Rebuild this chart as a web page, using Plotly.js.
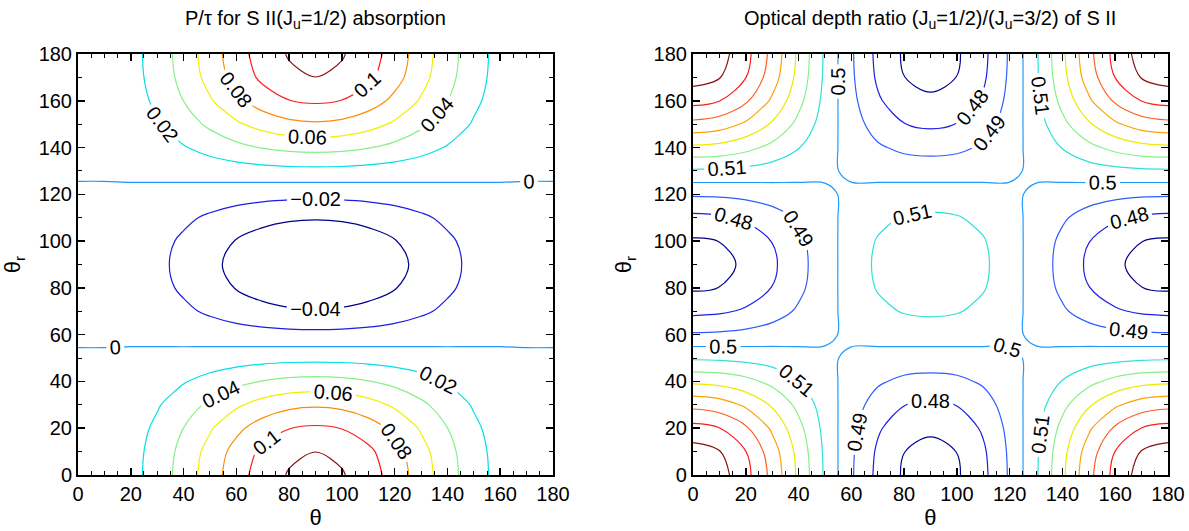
<!DOCTYPE html>
<html>
<head>
<meta charset="utf-8">
<script src="https://cdn.plot.ly/plotly-3.0.1.min.js"></script>
<style>
html,body{margin:0;padding:0;background:#ffffff;}
#chart{width:1189px;height:531px;}
</style>
</head>
<body>
<div id="chart"></div>
<script>
// Grid of angles (degrees)
const theta  = [0,10,20,30,40,50,60,70,80,90,100,110,120,130,140,150,160,170,180];
const thetaR = [0,10,20,30,40,50,60,70,80,90,100,110,120,130,140,150,160,170,180];

// Left panel: P/tau for S II (Ju=1/2) absorption, rows = theta_r, columns = theta
const pTau = [
 [0.0001,0.0034,0.0132,0.0286,0.0483,0.0701,0.0914,0.1095,0.1216,0.1259,0.1216,0.1095,0.0914,0.0701,0.0483,0.0286,0.0132,0.0034,0.0001],
 [0.0001,0.0032,0.0126,0.0274,0.0462,0.0669,0.0872,0.1044,0.1159,0.1199,0.1159,0.1044,0.0872,0.0669,0.0462,0.0274,0.0126,0.0032,0.0001],
 [0.0001,0.0028,0.0110,0.0238,0.0401,0.0579,0.0752,0.0898,0.0996,0.1030,0.0996,0.0898,0.0752,0.0579,0.0401,0.0238,0.0110,0.0028,0.0001],
 [0.0001,0.0022,0.0085,0.0182,0.0305,0.0440,0.0569,0.0677,0.0749,0.0774,0.0749,0.0677,0.0569,0.0440,0.0305,0.0182,0.0085,0.0022,0.0001],
 [0.0001,0.0013,0.0052,0.0112,0.0187,0.0268,0.0345,0.0409,0.0451,0.0466,0.0451,0.0409,0.0345,0.0268,0.0187,0.0112,0.0052,0.0013,0.0001],
 [0.00004,0.0004,0.0017,0.0036,0.0059,0.0085,0.0108,0.0128,0.0141,0.0145,0.0141,0.0128,0.0108,0.0085,0.0059,0.0036,0.0017,0.0004,0.00004],
 [-0.00005,-0.0005,-0.0018,-0.0038,-0.0063,-0.0089,-0.0113,-0.0133,-0.0146,-0.0150,-0.0146,-0.0133,-0.0113,-0.0089,-0.0063,-0.0038,-0.0018,-0.0005,-0.00005],
 [-0.0001,-0.0012,-0.0047,-0.0100,-0.0163,-0.0230,-0.0293,-0.0343,-0.0375,-0.0386,-0.0375,-0.0343,-0.0293,-0.0230,-0.0163,-0.0100,-0.0047,-0.0012,-0.0001],
 [-0.0001,-0.0017,-0.0066,-0.0140,-0.0230,-0.0323,-0.0409,-0.0478,-0.0523,-0.0538,-0.0523,-0.0478,-0.0409,-0.0323,-0.0230,-0.0140,-0.0066,-0.0017,-0.0001],
 [-0.0001,-0.0019,-0.0073,-0.0155,-0.0253,-0.0356,-0.0450,-0.0525,-0.0574,-0.0591,-0.0574,-0.0525,-0.0450,-0.0356,-0.0253,-0.0155,-0.0073,-0.0019,-0.0001],
 [-0.0001,-0.0017,-0.0066,-0.0140,-0.0230,-0.0323,-0.0409,-0.0478,-0.0523,-0.0538,-0.0523,-0.0478,-0.0409,-0.0323,-0.0230,-0.0140,-0.0066,-0.0017,-0.0001],
 [-0.0001,-0.0012,-0.0047,-0.0100,-0.0163,-0.0230,-0.0293,-0.0343,-0.0375,-0.0386,-0.0375,-0.0343,-0.0293,-0.0230,-0.0163,-0.0100,-0.0047,-0.0012,-0.0001],
 [-0.00005,-0.0005,-0.0018,-0.0038,-0.0063,-0.0089,-0.0113,-0.0133,-0.0146,-0.0150,-0.0146,-0.0133,-0.0113,-0.0089,-0.0063,-0.0038,-0.0018,-0.0005,-0.00005],
 [0.00004,0.0004,0.0017,0.0036,0.0059,0.0085,0.0108,0.0128,0.0141,0.0145,0.0141,0.0128,0.0108,0.0085,0.0059,0.0036,0.0017,0.0004,0.00004],
 [0.0001,0.0013,0.0052,0.0112,0.0187,0.0268,0.0345,0.0409,0.0451,0.0466,0.0451,0.0409,0.0345,0.0268,0.0187,0.0112,0.0052,0.0013,0.0001],
 [0.0001,0.0022,0.0085,0.0182,0.0305,0.0440,0.0569,0.0677,0.0749,0.0774,0.0749,0.0677,0.0569,0.0440,0.0305,0.0182,0.0085,0.0022,0.0001],
 [0.0001,0.0028,0.0110,0.0238,0.0401,0.0579,0.0752,0.0898,0.0996,0.1030,0.0996,0.0898,0.0752,0.0579,0.0401,0.0238,0.0110,0.0028,0.0001],
 [0.0001,0.0032,0.0126,0.0274,0.0462,0.0669,0.0872,0.1044,0.1159,0.1199,0.1159,0.1044,0.0872,0.0669,0.0462,0.0274,0.0126,0.0032,0.0001],
 [0.0001,0.0034,0.0132,0.0286,0.0483,0.0701,0.0914,0.1095,0.1216,0.1259,0.1216,0.1095,0.0914,0.0701,0.0483,0.0286,0.0132,0.0034,0.0001]
];

// Right panel: optical depth ratio (Ju=1/2)/(Ju=3/2), rows = theta_r, columns = theta
const depthRatio = [
 [0.5780,0.5742,0.5633,0.5471,0.5280,0.5086,0.4912,0.4775,0.4688,0.4658,0.4688,0.4775,0.4912,0.5086,0.5280,0.5471,0.5633,0.5742,0.5780],
 [0.5742,0.5705,0.5602,0.5448,0.5267,0.5082,0.4916,0.4785,0.4701,0.4673,0.4701,0.4785,0.4916,0.5082,0.5267,0.5448,0.5602,0.5705,0.5742],
 [0.5633,0.5602,0.5515,0.5384,0.5230,0.5071,0.4927,0.4813,0.4741,0.4716,0.4741,0.4813,0.4927,0.5071,0.5230,0.5384,0.5515,0.5602,0.5633],
 [0.5471,0.5448,0.5384,0.5288,0.5173,0.5054,0.4945,0.4858,0.4802,0.4783,0.4802,0.4858,0.4945,0.5054,0.5173,0.5288,0.5384,0.5448,0.5471],
 [0.5280,0.5267,0.5230,0.5173,0.5104,0.5033,0.4966,0.4913,0.4878,0.4867,0.4878,0.4913,0.4966,0.5033,0.5104,0.5173,0.5230,0.5267,0.5280],
 [0.5086,0.5082,0.5071,0.5054,0.5033,0.5012,0.4989,0.4972,0.4961,0.4957,0.4961,0.4972,0.4989,0.5012,0.5033,0.5054,0.5071,0.5082,0.5086],
 [0.4912,0.4916,0.4927,0.4945,0.4966,0.4989,0.5012,0.5029,0.5041,0.5045,0.5041,0.5029,0.5012,0.4989,0.4966,0.4945,0.4927,0.4916,0.4912],
 [0.4775,0.4785,0.4813,0.4858,0.4913,0.4972,0.5029,0.5076,0.5107,0.5117,0.5107,0.5076,0.5029,0.4972,0.4913,0.4858,0.4813,0.4785,0.4775],
 [0.4688,0.4701,0.4741,0.4802,0.4878,0.4961,0.5041,0.5107,0.5150,0.5165,0.5150,0.5107,0.5041,0.4961,0.4878,0.4802,0.4741,0.4701,0.4688],
 [0.4658,0.4673,0.4716,0.4783,0.4867,0.4957,0.5045,0.5117,0.5165,0.5182,0.5165,0.5117,0.5045,0.4957,0.4867,0.4783,0.4716,0.4673,0.4658],
 [0.4688,0.4701,0.4741,0.4802,0.4878,0.4961,0.5041,0.5107,0.5150,0.5165,0.5150,0.5107,0.5041,0.4961,0.4878,0.4802,0.4741,0.4701,0.4688],
 [0.4775,0.4785,0.4813,0.4858,0.4913,0.4972,0.5029,0.5076,0.5107,0.5117,0.5107,0.5076,0.5029,0.4972,0.4913,0.4858,0.4813,0.4785,0.4775],
 [0.4912,0.4916,0.4927,0.4945,0.4966,0.4989,0.5012,0.5029,0.5041,0.5045,0.5041,0.5029,0.5012,0.4989,0.4966,0.4945,0.4927,0.4916,0.4912],
 [0.5086,0.5082,0.5071,0.5054,0.5033,0.5012,0.4989,0.4972,0.4961,0.4957,0.4961,0.4972,0.4989,0.5012,0.5033,0.5054,0.5071,0.5082,0.5086],
 [0.5280,0.5267,0.5230,0.5173,0.5104,0.5033,0.4966,0.4913,0.4878,0.4867,0.4878,0.4913,0.4966,0.5033,0.5104,0.5173,0.5230,0.5267,0.5280],
 [0.5471,0.5448,0.5384,0.5288,0.5173,0.5054,0.4945,0.4858,0.4802,0.4783,0.4802,0.4858,0.4945,0.5054,0.5173,0.5288,0.5384,0.5448,0.5471],
 [0.5633,0.5602,0.5515,0.5384,0.5230,0.5071,0.4927,0.4813,0.4741,0.4716,0.4741,0.4813,0.4927,0.5071,0.5230,0.5384,0.5515,0.5602,0.5633],
 [0.5742,0.5705,0.5602,0.5448,0.5267,0.5082,0.4916,0.4785,0.4701,0.4673,0.4701,0.4785,0.4916,0.5082,0.5267,0.5448,0.5602,0.5705,0.5742],
 [0.5780,0.5742,0.5633,0.5471,0.5280,0.5086,0.4912,0.4775,0.4688,0.4658,0.4688,0.4775,0.4912,0.5086,0.5280,0.5471,0.5633,0.5742,0.5780]
];

// Contour levels
const pTauLevels  = [-0.04,-0.02,0,0.02,0.04,0.06,0.08,0.10,0.12];
const ratioLevels = [0.47,0.48,0.49,0.50,0.51,0.52,0.53,0.54,0.55,0.56,0.57];

// Line colours, one per level
const pTauColors  = ['#00008b','#1c1ce6','#1e96ff','#00e0e8','#88f088','#f0f000','#ff8c00','#ff1a1a','#8b1010'];
const ratioColors = ['#00008b','#1c1ce6','#2f5cff','#1e9bff','#30e0d8','#88f088','#eaea00','#ffa000','#ff5a1a','#ff1a1a','#8b1010'];

function scale(colors){
  const n = colors.length;
  return colors.map((c,i)=>[i/(n-1), c]);
}

const FONT = 'Liberation Sans, Arial, Helvetica, sans-serif';

const pTauTrace = {
  type:'contour', x:theta, y:thetaR, z:pTau, xaxis:'x', yaxis:'y',
  autocontour:false,
  contours:{start:pTauLevels[0], end:pTauLevels[pTauLevels.length-1]+0.0005, size:0.02,
            coloring:'lines', showlabels:true, labelformat:'.2~f',
            labelfont:{family:FONT, size:20, color:'#000'}},
  colorscale:scale(pTauColors), showscale:false,
  line:{width:1.2, smoothing:1}, hoverinfo:'skip'
};

const ratioTrace = {
  type:'contour', x:theta, y:thetaR, z:depthRatio, xaxis:'x2', yaxis:'y2',
  autocontour:false,
  contours:{start:ratioLevels[0], end:ratioLevels[ratioLevels.length-1]+0.0005, size:0.01,
            coloring:'lines', showlabels:true, labelformat:'.2~f',
            labelfont:{family:FONT, size:20, color:'#000'}},
  colorscale:scale(ratioColors), showscale:false,
  line:{width:1.2, smoothing:1}, hoverinfo:'skip'
};

function axis(domain, dtickMinor, anchor, titleText, standoff){
  return {
    domain:domain, anchor:anchor, range:[0,180], tick0:0, dtick:20,
    ticks:'inside', ticklen:7, tickwidth:1.5, tickcolor:'#000',
    showline:true, linewidth:2, linecolor:'#000', mirror:'allticks',
    showgrid:false, zeroline:false,
    tickfont:{family:FONT, size:20, color:'#000'},
    minor:{dtick:dtickMinor, ticks:'inside', ticklen:4, tickwidth:1, tickcolor:'#000', showgrid:false},
    title:{text:titleText, font:{family:FONT, size:22, color:'#000'}, standoff:standoff}
  };
}

const layout = {
  width:1189, height:531,
  margin:{l:78, r:21, t:54, b:56},
  paper_bgcolor:'#fff', plot_bgcolor:'#fff',
  showlegend:false,
  xaxis:  axis([0,0.4358], 5, 'y', 'θ', 6),
  yaxis:  axis([0,1], 10, 'x', 'θ<sub>r</sub>', 16),
  xaxis2: axis([0.5642,1], 5, 'y2', 'θ', 6),
  yaxis2: axis([0,1], 10, 'x2', 'θ<sub>r</sub>', 16),
  annotations:[
    {text:'P/τ for S II(J<sub>u</sub>=1/2) absorption', xref:'paper', yref:'paper',
     x:0.2179, y:1.082, xanchor:'center', yanchor:'middle', showarrow:false,
     font:{family:FONT, size:20, color:'#000'}},
    {text:'Optical depth ratio (J<sub>u</sub>=1/2)/(J<sub>u</sub>=3/2) of S II', xref:'paper', yref:'paper',
     x:0.7821, y:1.082, xanchor:'center', yanchor:'middle', showarrow:false,
     font:{family:FONT, size:20, color:'#000'}}
  ]
};

Plotly.newPlot('chart', [pTauTrace, ratioTrace], layout, {displayModeBar:false, staticPlot:true});
</script>
</body>
</html>
